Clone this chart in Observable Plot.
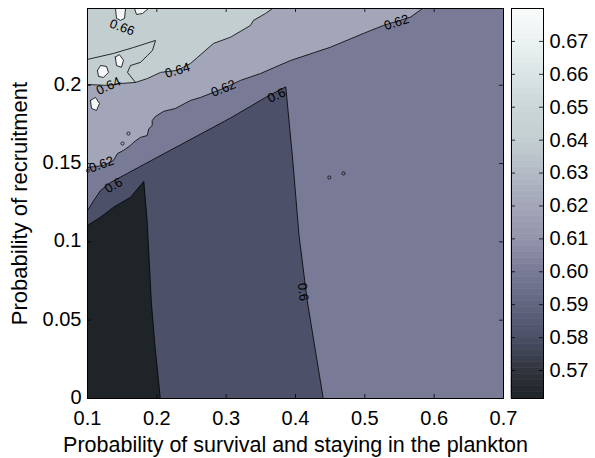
<!DOCTYPE html>
<html>
<head>
<meta charset="utf-8">
<script src="https://cdn.jsdelivr.net/npm/d3@7"></script>
<script src="https://cdn.jsdelivr.net/npm/@observablehq/plot@0.6"></script>
<style>
  body { margin: 0; background: #ffffff; }
  #chart { position: relative; width: 595px; height: 458px; overflow: hidden; background: #ffffff; }
  #chart svg { position: absolute; top: 0; }
</style>
</head>
<body>
<div id="chart"></div>
<script>
// ---------------- DATA ----------------
const xDomain = [0.1, 0.7];
const yDomain = [0, 0.249];
const xTicks = [0.1, 0.2, 0.3, 0.4, 0.5, 0.6, 0.7];
const xTickLabels = ["0.1", "0.2", "0.3", "0.4", "0.5", "0.6", "0.7"];
const yTicks = [0, 0.05, 0.1, 0.15, 0.2];
const yTickLabels = ["0", "0.05", "0.1", "0.15", "0.2"];
const xTitle = "Probability of survival and staying in the plankton";
const yTitle = "Probability of recruitment";

// colour bar
const cbRange = [0.5615, 0.68];
const cbTicks = [0.57, 0.58, 0.59, 0.60, 0.61, 0.62, 0.63, 0.64, 0.65, 0.66, 0.67];
const cbTickLabels = ["0.57", "0.58", "0.59", "0.60", "0.61", "0.62", "0.63", "0.64", "0.65", "0.66", "0.67"];

// contour levels of the filled regions (value used for colour)
const levelBase = 0.60;   // whole field between 0.60 and 0.62
const levelLow = 0.5615;  // darkest region (< 0.58)
const levelMid = 0.58;    // 0.58 - 0.60
const levelHigh1 = 0.62;  // 0.62 - 0.64
const levelHigh2 = 0.64;  // 0.64 - 0.66
const levelTop = 0.675;   // small patches above 0.66

// contour lines: [x, y]
const c058 = [[0.1,0.1105],[0.1188,0.1158],[0.138,0.1222],[0.162,0.1285],[0.1812,0.1386],[0.186,0.1137],[0.192,0.062],[0.197,0.035],[0.205,0]];
const c060 = [[0.1,0.1200],[0.1091,0.1264],[0.1188,0.1328],[0.1332,0.1379],[0.1909,0.1517],[0.263,0.1688],[0.3063,0.1791],[0.3567,0.1922],[0.386,0.199],[0.3961,0.152],[0.4051,0.1041],[0.4169,0.0626],[0.44,0]];
const c062 = [[0.1,0.1475],[0.1231,0.1488],[0.1375,0.152],[0.1433,0.1564],[0.1519,0.1584],[0.162,0.1616],[0.1663,0.1635],[0.1764,0.1667],[0.1861,0.1679],[0.1884,0.1722],[0.1933,0.1743],[0.1933,0.1775],[0.1981,0.1801],[0.2096,0.1833],[0.2269,0.1852],[0.2486,0.1903],[0.263,0.1922],[0.2962,0.198],[0.3207,0.2031],[0.3495,0.2075],[0.3928,0.2158],[0.4505,0.2243],[0.4981,0.2331],[0.5269,0.2382],[0.5659,0.2435],[0.5832,0.249]];
const c064 = [[0.1,0.2005],[0.1288,0.1999],[0.1476,0.2011],[0.1692,0.2018],[0.1865,0.2043],[0.2053,0.2082],[0.2298,0.2095],[0.2486,0.2139],[0.2587,0.2178],[0.2817,0.2267],[0.3015,0.2299],[0.3063,0.2307],[0.3351,0.2382],[0.3394,0.2414],[0.3567,0.2458],[0.3668,0.249]];
const cSpur = [[0.1,0.2165],[0.1375,0.2203],[0.1663,0.2241],[0.1981,0.2286],[0.1937,0.2222],[0.1865,0.219],[0.1764,0.2146],[0.162,0.2126],[0.1577,0.2082],[0.1692,0.2018]];
const spot1 = [[0.1404,0.249],[0.1418,0.2427],[0.1476,0.2414],[0.1534,0.2427],[0.1548,0.249]];
const spot2 = [[0.1678,0.249],[0.1707,0.2452],[0.1793,0.2458],[0.188,0.249]];
const spot3 = [[0.1144,0.2094],[0.1188,0.2126],[0.1274,0.212],[0.1303,0.2082],[0.1231,0.205],[0.1159,0.2056],[0.1144,0.2094]];
const spot4 = [[0.1043,0.1903],[0.1115,0.1922],[0.1173,0.1884],[0.113,0.1839],[0.1058,0.1852],[0.1043,0.1903]];
const spot5 = [[0.14,0.218],[0.146,0.2195],[0.152,0.216],[0.149,0.2115],[0.142,0.2125],[0.14,0.218]];
const tinyLoops = [[0.4692,0.1437],[0.4488,0.1411],[0.1591,0.1692],[0.1505,0.1628],[0.1005,0.1455]];

// inline contour labels
const contourLabels = [
  {x: 0.1498, y: 0.2369, text: "0.66", angle: 20},
  {x: 0.2298, y: 0.2095, text: "0.64", angle: -17},
  {x: 0.1303, y: 0.1995, text: "0.64", angle: -25},
  {x: 0.2962, y: 0.1980, text: "0.62", angle: -22},
  {x: 0.5457, y: 0.2401, text: "0.62", angle: -18},
  {x: 0.3726, y: 0.1935, text: "0.6", angle: -25},
  {x: 0.1202, y: 0.1494, text: "0.62", angle: -20},
  {x: 0.1375, y: 0.1360, text: "0.6", angle: -30},
  {x: 0.4108, y: 0.0680, text: "0.6", angle: 83}
];

// ---------------- COLOUR MAP (grey-blue "bone"-like, as in the colour bar) ----------------
const cmapValues = [0.5615, 0.57, 0.58, 0.59, 0.60, 0.61, 0.62, 0.63, 0.64, 0.65, 0.66, 0.67, 0.68];
const cmapColors = ["#1f2429", "#30343c", "#4c5068", "#62657f", "#797b96", "#9295ab", "#a3a6b8", "#b2b9c4", "#c3ced1", "#cad6d7", "#dae4e4", "#ecf2f2", "#f9fbfb"];

// ---------------- BUILD TABLES ----------------
const [xMin, xMax] = xDomain, [yMin, yMax] = yDomain;
const regions = [
  {id: "base", level: levelBase, pts: [[xMin, yMin], [xMax, yMin], [xMax, yMax], [xMin, yMax]]},
  {id: "r062", level: levelHigh1, pts: [...c062, [xMin, yMax]]},
  {id: "r064", level: levelHigh2, pts: [...c064, [xMin, yMax]]},
  {id: "s1", level: levelTop, pts: spot1},
  {id: "s2", level: levelTop, pts: spot2},
  {id: "s3", level: levelTop, pts: spot3},
  {id: "s4", level: levelTop, pts: spot4},
  {id: "s5", level: levelTop, pts: spot5},
  {id: "r058", level: levelMid, pts: [...c060, [xMin, yMin]]},
  {id: "rlow", level: levelLow, pts: [...c058, [xMin, yMin]]}
];
const regionRows = regions.flatMap(r => r.pts.map(([x, y]) => ({id: r.id, level: r.level, x, y})));
const lines = {c058, c060, c062, c064, cSpur, spot1, spot2, spot3, spot4, spot5};
const lineRows = Object.entries(lines).flatMap(([id, pts]) => pts.map(([x, y]) => ({id, x, y})));

// ---------------- LAYOUT ----------------
const FULLW = 595, H = 458, mT = 8, mB = 60;
const mL = 87, plotRight = 503;
const mR = FULLW - plotRight;
const innerW = plotRight - mL, innerH = H - mT - mB;
const tickLen = 4;
const font = "'Liberation Sans', Arial, Helvetica, sans-serif";
const colorOpts = {type: "linear", domain: cmapValues, range: cmapColors, clamp: true};

const main = Plot.plot({
  width: FULLW, height: H,
  marginLeft: mL, marginRight: mR, marginTop: mT, marginBottom: mB,
  x: {domain: xDomain},
  y: {domain: yDomain},
  color: colorOpts,
  style: {fontFamily: font, fontSize: "20px", color: "black", background: "transparent", overflow: "visible"},
  marks: [
    Plot.line(regionRows, {x: "x", y: "y", z: "id", fill: "level", stroke: "none", curve: "linear-closed"}),
    Plot.line(lineRows, {x: "x", y: "y", z: "id", stroke: "black", strokeWidth: 0.8, strokeLinejoin: "round"}),
    Plot.dot(tinyLoops, {x: d => d[0], y: d => d[1], r: 1.6, stroke: "black", strokeWidth: 0.7, fill: "none"}),
    Plot.text(contourLabels, {x: "x", y: "y", text: "text", rotate: "angle", fontSize: 13, fill: "black"}),
    Plot.frame({stroke: "black", strokeWidth: 1}),
    Plot.tickX(xTicks, {x: d => d, insetTop: innerH - tickLen, stroke: "black", strokeWidth: 0.8}),
    Plot.tickX(xTicks, {x: d => d, insetBottom: innerH - tickLen, stroke: "black", strokeWidth: 0.8}),
    Plot.tickY(yTicks, {y: d => d, insetRight: innerW - tickLen, stroke: "black", strokeWidth: 0.8}),
    Plot.tickY(yTicks, {y: d => d, insetLeft: innerW - tickLen, stroke: "black", strokeWidth: 0.8}),
    Plot.axisX({ticks: xTicks, tickFormat: d => xTickLabels[xTicks.indexOf(d)], tickSize: 0, tickPadding: 12, label: null}),
    Plot.axisY({ticks: yTicks, tickFormat: d => yTickLabels[yTicks.indexOf(d)], tickSize: 0, tickPadding: 6, dy: -1, label: null}),
    Plot.text([xTitle], {frameAnchor: "bottom", dy: 47, text: d => d, fontSize: 21.5, textAnchor: "middle", lineAnchor: "middle", fill: "black"}),
    Plot.text([yTitle], {frameAnchor: "left", dx: -68, rotate: -90, text: d => d, fontSize: 22, textAnchor: "middle", lineAnchor: "middle", fill: "black"})
  ]
});

// colour bar
const cbLeft = 505, CW = 90, cL = 6, cR = 52;
const cInnerW = CW - cL - cR;
const nBins = 64;
const bins = d3.range(nBins).map(i => {
  const lo = cbRange[0] + (cbRange[1] - cbRange[0]) * i / nBins;
  const hi = cbRange[0] + (cbRange[1] - cbRange[0]) * (i + 1) / nBins;
  return {lo, hi, mid: (lo + hi) / 2};
});
const bar = Plot.plot({
  width: CW, height: H,
  marginLeft: cL, marginRight: cR, marginTop: mT, marginBottom: mB,
  x: {domain: [0, 1], axis: null},
  y: {domain: cbRange},
  color: colorOpts,
  style: {fontFamily: font, fontSize: "20px", color: "black", background: "transparent", overflow: "visible"},
  marks: [
    Plot.rect(bins, {x1: 0, x2: 1, y1: "lo", y2: "hi", fill: "mid", stroke: "mid", strokeWidth: 0.6}),
    Plot.frame({stroke: "black", strokeWidth: 1}),
    Plot.tickY(cbTicks, {y: d => d, insetRight: cInnerW - tickLen, stroke: "black", strokeWidth: 0.8}),
    Plot.tickY(cbTicks, {y: d => d, insetLeft: cInnerW - tickLen, stroke: "black", strokeWidth: 0.8}),
    Plot.axisY({anchor: "right", ticks: cbTicks, tickFormat: d => cbTickLabels[cbTicks.indexOf(d)], tickSize: 0, tickPadding: 6, label: null})
  ]
});

const chart = document.getElementById("chart");
main.style.left = "0px";
bar.style.left = cbLeft + "px";
chart.appendChild(main);
chart.appendChild(bar);
</script>
</body>
</html>
